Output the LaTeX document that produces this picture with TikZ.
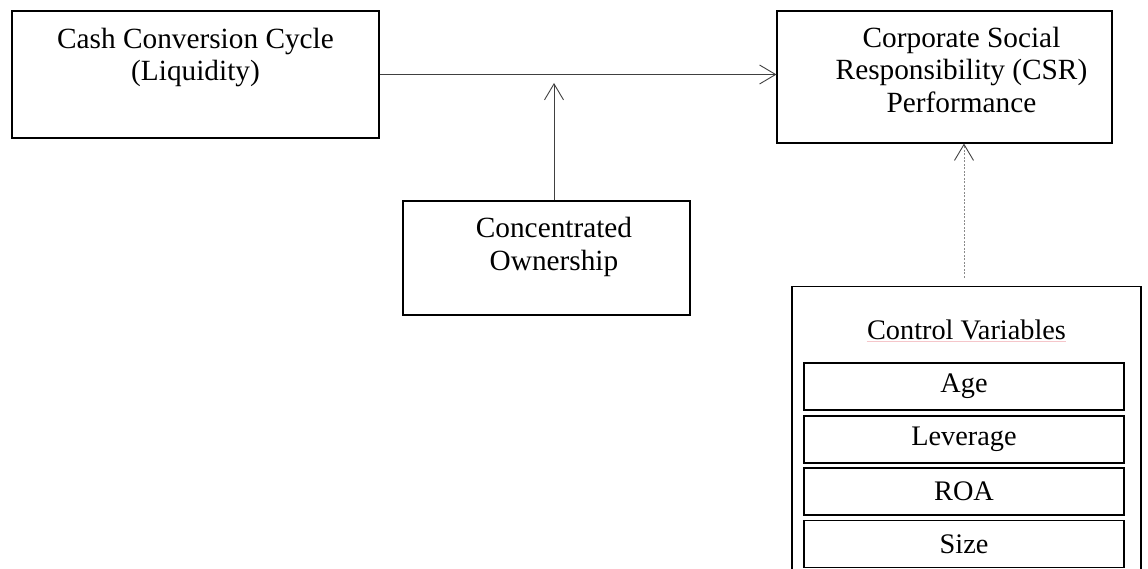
\documentclass[tikz,border=0pt]{standalone}
\usepackage{fontspec}
\setmainfont{Liberation Serif}
\usepackage{tikz}
\definecolor{line700}{HTML}{404040}
\definecolor{gray500}{HTML}{8A8A8A}
\definecolor{spell300}{HTML}{F5C6CA}
\usetikzlibrary{arrows.meta}
\tikzstyle{block}=[draw=black, line width=1.1pt, inner sep=0pt]
\tikzstyle{blocktext}=[anchor=north, align=center, inner sep=0pt, yshift=-16.5, font=\fontsize{29.3}{32.5}\selectfont]
\tikzstyle{varbox}=[block, minimum width=320, minimum height=47, font=\fontsize{28.3}{32}\selectfont]

\begin{document}
\begin{tikzpicture}[x=1pt, y=-1pt, >={Straight Barb[length=16pt, width=19pt]}, line width=0.9pt]
				\useasboundingbox (0,0) rectangle (1148,569);
				\node[block, minimum width=367, minimum height=127, label={[blocktext, yshift=-0.5]north:{Cash Conversion Cycle\\(Liquidity)}}] (ccc) at (195.5,74.5) {};
				\node[block, minimum width=335, minimum height=132, label={[blocktext, xshift=17, yshift=0.5]north:{Corporate Social\\Responsibility (CSR)\\Performance}}] (csr) at (944.5,77) {};
				\node[block, minimum width=287, minimum height=114, label={[blocktext, xshift=7.5]north:{Concentrated\\Ownership}}] (own) at (546.5,258) {};
				\node[block, minimum width=349, minimum height=300, anchor=north, label={[blocktext, name=ctrltxt, yshift=-16.5, font=\fontsize{28.3}{32}\selectfont]north:{Control Variables}}] (ctrl) at (966.5,286) {};
				\node[varbox] (age) at (964,386.5) {Age};
				\node[varbox] (lev) at (964,439.5) {Leverage};
				\node[varbox] (roa) at (964,491.5) {ROA};
				\node[varbox] (size) at (964,544) {Size};
				\coordinate (mod) at (554,83);
				\coordinate (ctl) at (964,278);
				\draw[->, line700] (ccc.east) -- (ccc.east -| csr.west);
				\draw[->, line700] (mod |- own.north) -- (mod);
				\draw[-{Straight Barb[length=16pt, width=19pt, color=line700]}, gray500, dash pattern=on 2pt off 1.5pt] (ctl) -- (ctl |- csr.south);
				\draw[spell300, line width=0.6pt] ([yshift=-2.5]ctrltxt.base west) -- ([yshift=-2.5]ctrltxt.base east);
			\end{tikzpicture}
\end{document}
